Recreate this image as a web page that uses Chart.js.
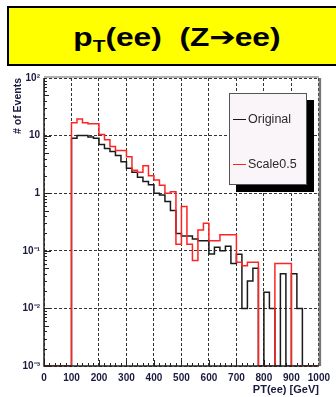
<!DOCTYPE html>
<html><head><meta charset="utf-8">
<script src="https://cdn.jsdelivr.net/npm/chart.js@4.4.1/dist/chart.umd.min.js"></script>
<style>
html,body{margin:0;padding:0;background:#fff;width:336px;height:397px;overflow:hidden;font-family:"Liberation Sans",Arial,sans-serif}
#title{position:absolute;left:7px;top:6px;width:336px;height:56px;background:#ffff00;border:2px solid #000;display:flex;align-items:center;justify-content:center;color:#000}
#title .t{display:inline-block;font-weight:bold;font-size:26px;white-space:pre;transform:scaleX(1.22);transform-origin:center;margin-top:2px}
#title sub{font-size:17px;vertical-align:-6px;line-height:0}
#title .arr{font-family:"DejaVu Sans",sans-serif;font-size:26px;font-weight:bold;letter-spacing:-1px;line-height:0}
#wrap{position:absolute;left:0;top:68px;width:336px;height:329px}
#legend{position:absolute;left:229px;top:93px;width:76px;height:90px;border:1px solid #555;background:#f9f5f9;box-shadow:7px 7px 0 #000;font-size:12.5px;color:#2a2a2a}
.ent{position:absolute;left:2px;height:14px;line-height:14px}
.ent i{position:absolute;left:1px;top:7px;width:13px;height:0;border-top:1.5px solid #000}
.ent span{position:absolute;left:16px;top:0;white-space:nowrap}
</style></head>
<body>
<div id="title"><span class="t">p<sub>T</sub>(ee)  (Z<span class="arr">➔</span>ee)</span></div>
<div id="wrap"><canvas id="c" width="336" height="329"></canvas></div>
<div id="legend"></div>
<script>
// bin left edges [GeV], 20 GeV bins
const binEdges = [0,20,40,60,80,100,120,140,160,180,200,220,240,260,280,300,320,340,360,380,400,420,440,460,480,500,520,540,560,580,600,620,640,660,680,700,720,740,760,780,800,820,840,860,880,900,920,940,960,980];
const lastEdge = 1000;
const seriesNames = ["Original","Scale0.5"];
const seriesColors = ["#1a1a1a","#ff2424"];
const original = [0,0,0,0,0,9.0,10.0,10.0,9.5,9.0,7.0,6.0,5.3,4.5,3.5,2.7,2.3,1.9,1.6,1.4,1.0,0.93,0.72,0.5,0.2,0.18,0.18,0.16,0.15,0.15,0.088,0.115,0.1,0.12,0.06,0.087,0.01,0.03,0.05,0,0.019,0.01,0,0.04,0,0.04,0.01,0,0,0];
const scale05 = [0,0,0,0,0,16.7,19.5,16.7,16,16,10.5,8.5,6.5,5.5,5.5,4.3,2.5,2.3,3.0,2.0,1.7,1.38,1.0,1.06,0.13,0.59,0.13,0.068,0.23,0.30,0.15,0.15,0.19,0.19,0.19,0.063,0.055,0.063,0.063,0,0,0,0.06,0.06,0.06,0,0,0,0,0];
const xTickLabels = ["0","100","200","300","400","500","600","700","800","900","1000"];
const yDecades = [0.001,0.01,0.1,1,10,100];
const yTickLabels = ["10\u207B\u00B3","10\u207B\u00B2","10\u207B\u00B9","1","10","10\u00B2"];
const yMin = 0.001, yMax = 100;

function histPoints(vals){
  const pts = binEdges.map((e,i)=>({x:e, y: vals[i]>0 ? vals[i] : yMin}));
  pts.push({x:lastEdge, y: vals[vals.length-1]>0 ? vals[vals.length-1] : yMin});
  return pts;
}

// HTML legend
const leg = document.getElementById('legend');
[[0,18],[1,63]].forEach(([k,top])=>{
  const d=document.createElement('div'); d.className='ent'; d.style.top=top+'px';
  d.innerHTML='<i style="border-color:'+seriesColors[k]+'"></i><span>'+seriesNames[k]+'</span>';
  leg.appendChild(d);
});

const framePlugin = {
  id:'frame',
  beforeDatasetsDraw(chart){
    const {ctx, chartArea:a, scales:{x,y}} = chart;
    ctx.save();
    ctx.strokeStyle='#222'; ctx.lineWidth=1;
    for(let v=0; v<=1000; v+=20){
      const px=Math.round(x.getPixelForValue(v))+0.5, len=(v%100===0)?6:3;
      ctx.beginPath(); ctx.moveTo(px,a.bottom); ctx.lineTo(px,a.bottom-len); ctx.stroke();
    }
    for(let n=-3;n<=1;n++){
      for(let k=1;k<=9;k++){
        const v=k*Math.pow(10,n); const py=Math.round(y.getPixelForValue(v))+0.5; const len=(k===1)?7:(k===5?5:3);
        ctx.beginPath(); ctx.moveTo(a.left,py); ctx.lineTo(a.left+len,py); ctx.stroke();
      }
    }
    ctx.restore();
  },
  afterDatasetsDraw(chart){
    const {ctx, chartArea:a} = chart;
    ctx.save();
    ctx.lineWidth=2; ctx.strokeStyle='#b0b0b0';
    ctx.beginPath(); ctx.moveTo(a.left,a.top-1); ctx.lineTo(a.right,a.top-1); ctx.stroke();
    ctx.strokeStyle='#777'; ctx.lineWidth=2.5;
    ctx.beginPath(); ctx.moveTo(a.right+1,a.top); ctx.lineTo(a.right+1,a.bottom); ctx.stroke();
    ctx.strokeStyle='#222'; ctx.lineWidth=1.5;
    ctx.beginPath(); ctx.moveTo(a.left,a.top); ctx.lineTo(a.left,a.bottom); ctx.lineTo(a.right,a.bottom); ctx.stroke();
    ctx.restore();
  }
};

const tickFont = {family:'"Liberation Sans", Arial, sans-serif', size:10, weight:'bold'};
const tickColor = '#1a1a40';

new Chart(document.getElementById('c'), {
  type:'line',
  data:{datasets:[
    {label:seriesNames[1], data:histPoints(scale05), borderColor:seriesColors[1], borderWidth:1.5, stepped:true, pointRadius:0, fill:false, order:0},
    {label:seriesNames[0], data:histPoints(original), borderColor:seriesColors[0], borderWidth:1.5, stepped:true, pointRadius:0, fill:false, order:1}
  ]},
  options:{
    responsive:false, animation:false, devicePixelRatio:1,
    layout:{padding:{left:0,right:10,top:7,bottom:0}},
    plugins:{legend:{display:false}, tooltip:{enabled:false}},
    scales:{
      x:{type:'linear', min:0, max:1000,
        afterBuildTicks(s){ s.ticks = xTickLabels.map(t=>({value:Number(t)})); },
        afterFit(s){ s.height = 31; },
        grid:{color:'#333', lineWidth:1, drawTicks:false},
        border:{display:false, dash:[3,2]},
        ticks:{padding:6, maxRotation:0, autoSkip:false, font:tickFont, color:tickColor,
          callback:(v,i)=>xTickLabels[i]},
        title:{display:true, text:'PT(ee) [GeV]', align:'end', color:tickColor,
          font:{family:'"Liberation Sans", Arial, sans-serif', size:11, weight:'bold'}, padding:{top:-3,bottom:0}}
      },
      y:{type:'logarithmic', min:yMin, max:yMax,
        afterBuildTicks(s){ s.ticks = yDecades.map(v=>({value:v})); },
        afterFit(s){ s.width = 44; },
        grid:{color:'#333', lineWidth:1, drawTicks:false},
        border:{display:false, dash:[3,2]},
        ticks:{padding:4, autoSkip:false, font:tickFont, color:tickColor,
          callback:(v,i)=>yTickLabels[i]},
        title:{display:true, text:'# of Events', align:'end', color:tickColor,
          font:{family:'"Liberation Sans", Arial, sans-serif', size:10.5, weight:'bold'}, padding:{top:12,bottom:0}}
      }
    }
  },
  plugins:[framePlugin]
});
</script>
</body></html>
